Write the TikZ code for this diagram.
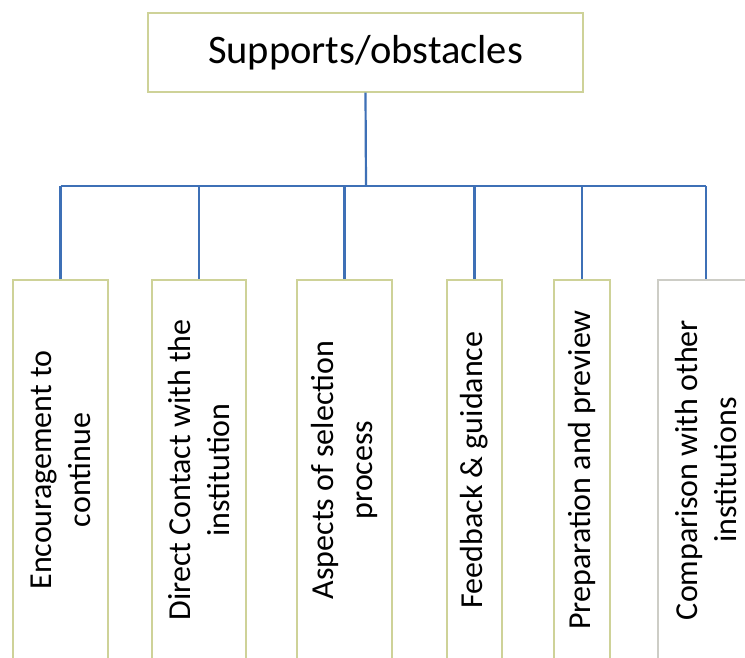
\documentclass[tikz,border=0pt]{standalone}
\usepackage{fontspec}
\setmainfont{Carlito}
\definecolor{boxline}{RGB}{206,210,152}
\definecolor{boxgray}{RGB}{205,205,198}
\definecolor{linkblue}{RGB}{62,112,182}
\tikzset{
  rootbox/.style={draw=boxline, line width=1.4pt, fill=white, minimum width=435pt, minimum height=79pt, inner sep=0pt,
    font=\fontsize{40.5}{49}\selectfont},
  leafbox/.style={draw=boxline, line width=1.4pt, fill=white, rotate=90, minimum width=380pt, inner sep=0pt, align=center,
    font=\fontsize{32}{39}\selectfont},
  link/.style={draw=linkblue, line width=2.2pt},
}
\begin{document}
\begin{tikzpicture}[x=1pt,y=-1pt]
\useasboundingbox (0,0) rectangle (745,657);
\clip (0,0) rectangle (745,657);
\fill[white] (0,0) rectangle (745,657);
\node[rootbox] (root) at (365.5,52.5) {Supports/obstacles};
\node[leafbox, minimum height=95pt] (b1) at (60.5,470) {Encouragement to\\continue};
\node[leafbox, minimum height=94pt] (b2) at (199,470) {Direct Contact with the\\institution};
\node[leafbox, minimum height=95pt] (b3) at (344.5,470) {Aspects of selection\\process};
\node[leafbox, minimum height=55pt] (b4) at (474.5,470) {Feedback \& guidance};
\node[leafbox, minimum height=56pt] (b5) at (582,470) {Preparation and preview};
\node[leafbox, draw=boxgray, minimum height=96pt] (b6) at (706,470) {Comparison with other\\institutions};
\coordinate (hub) at (366,186);
\draw[link] (root.south) -- (hub);
\draw[link] (b1.east |- hub) -- (b6.east |- hub);
\foreach \b in {b1,b2,b3,b4,b5,b6}
  \draw[link] (\b.east |- hub) -- (\b.east);
\end{tikzpicture}
\end{document}
